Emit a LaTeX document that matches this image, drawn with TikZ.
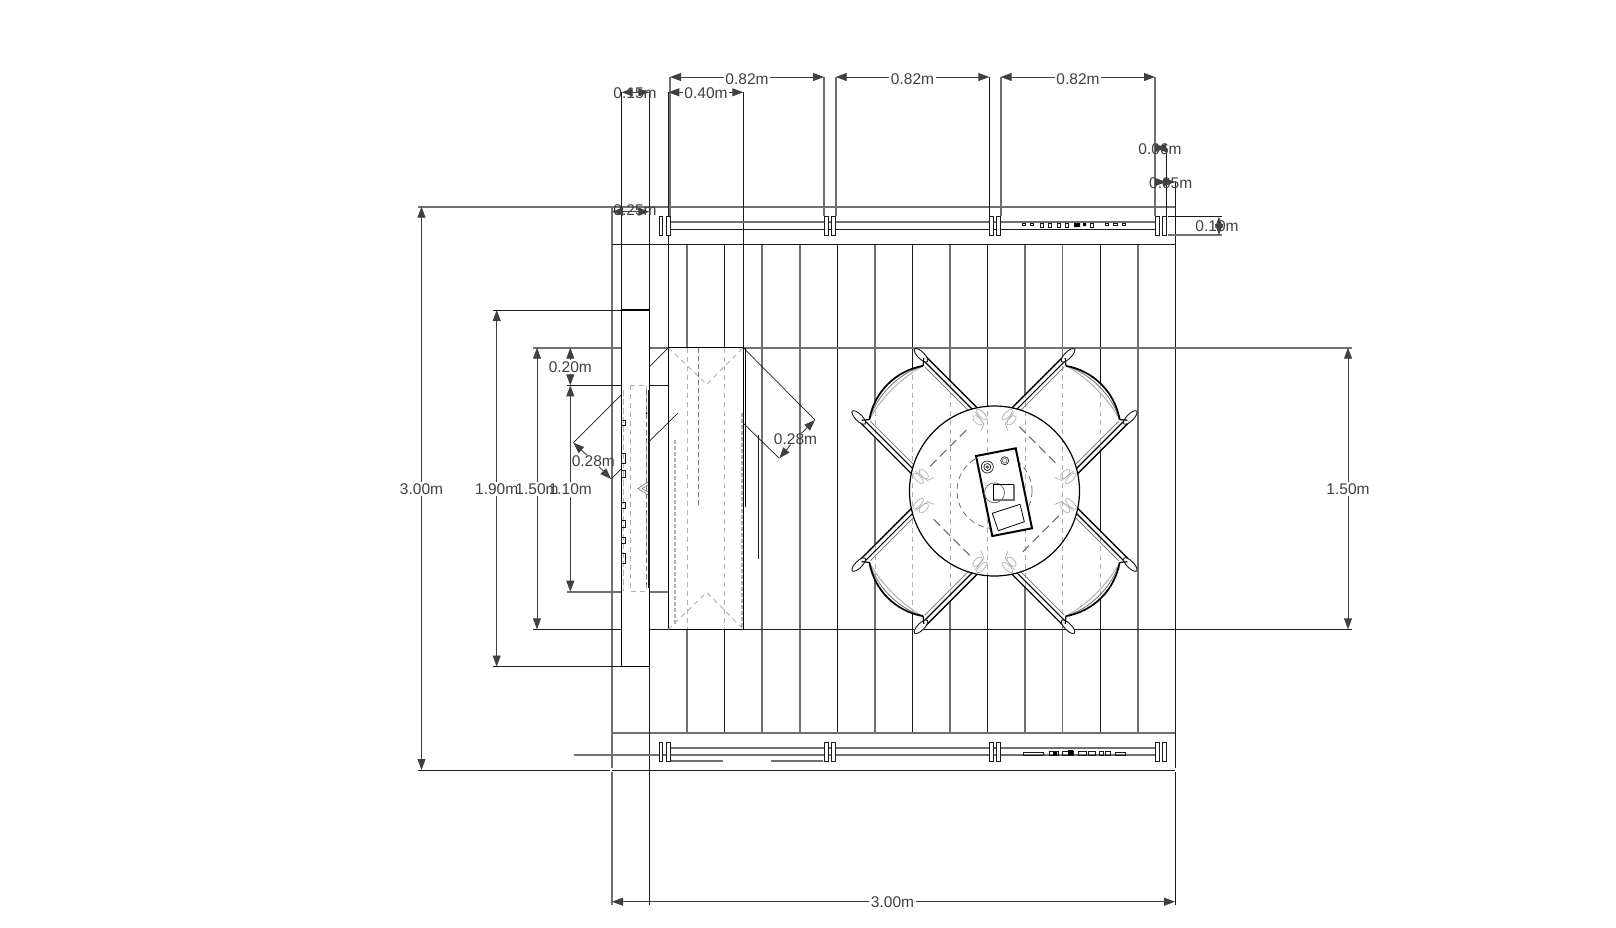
\documentclass[tikz,border=0pt]{standalone}
\usepackage{fontspec}
\setmainfont{Liberation Sans}
\usetikzlibrary{arrows.meta}

\newcommand{\chairoutline}{(60,-47) -- (139,-47) -- (139,-38) .. controls (155,-15) and (155,15) .. (139,38) -- (139,47) -- (60,47) -- cycle}
\newcommand{\seatplanks}{(875,240) -- (875,740) (912.3,240) -- (912.3,740) (950,240) -- (950,740) (987.3,240) -- (987.3,740) (1025,240) -- (1025,740) (1062.6,240) -- (1062.6,740) (1100,240) -- (1100,740)}
\newcommand{\chairpatch}[1]{%
  \fill[white, shift={(centre)}, rotate=#1] \chairoutline;
  \begin{scope}
    \path[clip, shift={(centre)}, rotate=#1] \chairoutline;
    \draw[hidden] \seatplanks;
  \end{scope}}

\begin{document}
\begin{tikzpicture}[x=1pt, y=-1pt, >={Triangle[length=11pt,width=8pt]}]

\definecolor{darkline}{RGB}{26, 26, 26}
\definecolor{greyline}{RGB}{112, 112, 112}
\definecolor{lightline}{RGB}{176, 176, 176}
\definecolor{dimcolor}{RGB}{64, 64, 64}

\tikzset{
    blackline/.style={draw=darkline, line width=1pt},
    greyed/.style={draw=greyline, line width=1.6pt},
    hidden/.style={draw=lightline, line width=0.9pt, dash pattern=on 5pt off 4pt},
    hiddenwide/.style={draw=lightline, line width=1.5pt, dash pattern=on 4pt off 2pt},
    hiddendark/.style={draw=greyline, line width=0.9pt, dash pattern=on 5pt off 3pt},
    dim/.style={draw=dimcolor, line width=0.9pt, ->},
    dimboth/.style={draw=dimcolor, line width=0.9pt, <->},
    dimlabel/.style={text=dimcolor, font=\fontsize{15.5}{18}\selectfont, inner sep=1.5pt},
    postbar/.style={draw=darkline, line width=1pt, fill=white},
    claw/.style={draw=lightline, line width=0.7pt},
    chair/.pic={
        % side bars
        \draw[draw=black, line width=1.4pt] (70,-46.5) -- (150,-46.5) (70,46.5) -- (150,46.5);
        \draw[draw=black, line width=1.2pt] (70,-42) -- (143,-42) (70,42) -- (143,42);
        \draw[draw=greyline, line width=0.7pt] (70,-38.5) -- (137,-38.5) (70,38.5) -- (137,38.5);
        % back
        \draw[draw=lightline, line width=1pt] (139,-38) .. controls (146,-15) and (146,15) .. (139,38);
        \draw[draw=greyline, line width=0.8pt] (139,-38) .. controls (151,-15) and (151,15) .. (139,38);
        \draw[draw=black, line width=1.7pt] (139,-38) .. controls (155,-15) and (155,15) .. (139,38);
        % knobs
        \draw[draw=darkline, line width=0.9pt, fill=white] (148,-44) ellipse (9 and 3.4) (148,44) ellipse (9 and 3.4);
        \draw[draw=black, line width=1.2pt] (139,-38) -- (144,-44) (139,38) -- (144,44);
    },
    chairfeet/.pic={
        \draw[claw] (63,-45) ellipse (7 and 2.6) (63,45) ellipse (7 and 2.6);
        \draw[claw] (62,-38) ellipse (6 and 3) (62,38) ellipse (6 and 3);
        \draw[claw] (70,-42) -- (55,-40) -- (52,-33) (70,42) -- (55,40) -- (52,33);
        \draw[draw=dimcolor!80, line width=1.1pt, dash pattern=on 9pt off 5pt] (63,-28) -- (63,28);
    }
}

\useasboundingbox (0,0) rectangle (1616,927);

% Named points of the dimensions
\coordinate (centre) at (994.5,491);
\coordinate (top300) at (421.5,206.7);
\coordinate (bot300) at (421.5,770);
\coordinate (top190) at (496.7,310);
\coordinate (bot190) at (496.7,666.5);
\coordinate (top150) at (537,347.7);
\coordinate (bot150) at (537,629.3);
\coordinate (top110) at (570.3,385.3);
\coordinate (bot110) at (570.3,591.7);
\coordinate (top020) at (570.3,347.7);
\coordinate (rtop150) at (1348,347.7);
\coordinate (rbot150) at (1348,629.3);
\coordinate (left300) at (612,901.7);
\coordinate (right300) at (1175,901.7);
\coordinate (a82) at (670,77);
\coordinate (b82) at (824,77);
\coordinate (c82) at (835.7,77);
\coordinate (d82) at (989.3,77);
\coordinate (e82) at (1000.7,77);
\coordinate (f82) at (1155,77);
\coordinate (a40) at (668.3,92.3);
\coordinate (b40) at (743.3,92.3);
\coordinate (a15) at (621.7,92.3);
\coordinate (b15) at (649.3,92.3);
\coordinate (a25) at (612,211.7);
\coordinate (b25) at (649.3,211.7);
\coordinate (a06) at (1155,148);
\coordinate (b06) at (1166,148);
\coordinate (a05) at (1166,182);
\coordinate (b05) at (1175,182);
\coordinate (a10) at (1219,216.7);
\coordinate (b10) at (1219,235);
\coordinate (ldiagA) at (573.3,442.7);
\coordinate (ldiagB) at (611,479);
\coordinate (rdiagA) at (815,420);
\coordinate (rdiagB) at (779.3,458.3);

% Floor planks
\draw[greyed] (687,244) -- (687,732.7) (762,244) -- (762,732.7) (799.7,244) -- (799.7,732.7)
    (875,244) -- (875,732.7) (950,244) -- (950,732.7) (1025,244) -- (1025,732.7)
    (1062.6,244) -- (1062.6,732.7) (1138,244) -- (1138,732.7);
\draw[blackline] (724.3,244) -- (724.3,732.7) (837.3,244) -- (837.3,732.7) (912.3,244) -- (912.3,732.7)
    (987.3,244) -- (987.3,732.7) (1100,244) -- (1100,732.7);

% Outer frame and extension lines
\draw[greyed] (418,206.7) -- (1175,206.7) (612,206.7) -- (612,768) (612,772) -- (612,905);
\draw[greyed] (612,732.7) -- (1175,732.7);
\draw[blackline] (418,770) -- (610,770) (612,770) -- (1175,770) (612,244) -- (1175,244);
\draw[blackline] (1175,182) -- (1175,768) (1175,772) -- (1175,905) (649.3,92) -- (649.3,905);
\draw[blackline] (621.7,92) -- (621.7,310) (668.3,92) -- (668.3,347.7) (743.3,92) -- (743.3,347.7);
\draw[greyed] (670,77) -- (670,216) (824,77) -- (824,216) (835.7,77) -- (835.7,216) (1000.7,77) -- (1000.7,216) (1155,77) -- (1155,216);
\draw[blackline] (989.3,77) -- (989.3,216) (1166,148) -- (1166,216);
\draw[blackline] (1168,216.7) -- (1222,216.7);
\draw[greyed] (1168,235) -- (1222,235);
\draw[greyed] (533,347.7) -- (1352,347.7);
\draw[blackline] (533,629.3) -- (1352,629.3);
\draw[blackline] (493,310) -- (621.3,310) (493,666.5) -- (621.3,666.5);
\draw[blackline] (567,385.3) -- (668.3,385.3);
\draw[greyed] (567,591.7) -- (668.3,591.7);

% Bench
\draw[draw=black, line width=1.1pt, fill=white] (668.3,347.7) rectangle (743.3,629.3);
\draw[hidden] (668.3,347.7) -- (706.7,384.3) -- (743.3,347.7) (668.3,629.3) -- (706.7,592.3) -- (743.3,629.3);
\draw[hidden] (687,348) -- (687,629) (724.3,348) -- (724.3,629);
\draw[hiddendark] (698.3,348) -- (698.3,506.7);
\draw[hiddenwide] (675,440) -- (675,626) (742,413) -- (742,629);
\draw[draw=black, line width=1.3pt] (745.3,348) -- (745.3,506.7);
\draw[blackline] (758.3,435) -- (758.3,559.3);

% Diagonal extensions
\draw[draw=darkline, line width=0.7pt] (668.3,347.7) -- (ldiagA) (ldiagB) -- (677.7,413.3);
\draw[draw=darkline, line width=0.7pt] (743.3,347.7) -- (rdiagA) (743.3,423.3) -- (rdiagB);

% Grill
\draw[draw=black, line width=1.1pt, fill=white] (621.3,310) rectangle (649.3,666.5);
\draw[hidden] (630.7,385.3) rectangle (646.7,591.7);
\draw[draw=lightline, line width=1.5pt, dash pattern=on 6pt off 3pt] (623.5,390) -- (623.5,591);
\draw[draw=darkline, line width=1.6pt] (648.8,390) -- (648.8,588);
\draw[hiddendark] (646.7,390) -- (646.7,585);
\draw[draw=darkline, line width=0.5pt] (621.7,420) rectangle (625.7,425) (621.7,453) rectangle (625.7,463)
    (621.7,470) rectangle (625.7,477) (621.7,502) rectangle (625.7,508) (621.7,520) rectangle (625.7,527)
    (621.7,537) rectangle (625.7,543) (621.7,553) rectangle (625.7,563);
\fill[black] (646.7,413) circle (1);
\draw[draw=greyline, line width=0.6pt] (648,482) -- (638,488.5) -- (648,495) (648,485) -- (642,488.5) -- (648,492);

% Rails and posts
\draw[greyed] (670,221.7) -- (1155,221.7);
\draw[blackline] (670,229.3) -- (1155,229.3);
\draw[greyed] (670,747.7) -- (1155,747.7) (574,754.7) -- (1155,754.7);
\draw[greyed] (670,760.7) -- (723.3,760.7) (770.7,760.7) -- (823,760.7);
\draw[postbar] (659,216) rectangle (662.7,235) (666.7,216) rectangle (670.3,235)
    (824,216) rectangle (828,235) (831.7,216) rectangle (835.7,235)
    (989.3,216) rectangle (993,235) (996.7,216) rectangle (1000.7,235)
    (1155,216) rectangle (1159,235) (1162,216) rectangle (1166,235);
\draw[postbar] (659,742.3) rectangle (662.7,761.7) (666.7,742.3) rectangle (670.3,761.7)
    (824,742.3) rectangle (828,761.7) (831.7,742.3) rectangle (835.7,761.7)
    (989.3,742.3) rectangle (993,761.7) (996.7,742.3) rectangle (1000.7,761.7)
    (1155,742.3) rectangle (1159,761.7) (1162,742.3) rectangle (1166,761.7);

% Items on the rails
\draw[draw=darkline, line width=0.35pt] (1022,223) rectangle (1025,225) (1030,223) rectangle (1033,225)
    (1040,223) rectangle (1043,227) (1048,223) rectangle (1051,227) (1057,223) rectangle (1060,227)
    (1065,223) rectangle (1068,227) (1090,223) rectangle (1093,227) (1105,223) rectangle (1108,225)
    (1113,223) rectangle (1117,225) (1122,223) rectangle (1125,225);
\fill[black] (1074,223) rectangle (1080,227) (1083,223) rectangle (1086,226);
\draw[draw=darkline, line width=0.35pt] (1022.7,752.5) rectangle (1043,755) (1049,751) rectangle (1058,755)
    (1062,751) rectangle (1073,755) (1078,751) rectangle (1086,755) (1088,751) rectangle (1095,755)
    (1099,751) rectangle (1103,755) (1105,751) rectangle (1110,755) (1115,752.5) rectangle (1125,755);
\fill[black] (1068,750) rectangle (1073,755) (1053,752) rectangle (1057,755);

% Chairs and table
\chairpatch{45}
\chairpatch{135}
\chairpatch{225}
\chairpatch{315}
\pic[rotate=45] (chairNE) at (centre) {chair};
\pic[rotate=135] (chairNW) at (centre) {chair};
\pic[rotate=225] (chairSW) at (centre) {chair};
\pic[rotate=315] (chairSE) at (centre) {chair};

\fill[white] (centre) circle (85);
\begin{scope}
    \clip (centre) circle (85);
    \draw[hidden] \seatplanks;
\end{scope}
\draw[draw=black, line width=1.2pt] (centre) circle (85);
\draw[draw=greyline, line width=0.8pt, dash pattern=on 6pt off 4pt] (centre) circle (37.5);
\pic[rotate=45] (feetNE) at (centre) {chairfeet};
\pic[rotate=135] (feetNW) at (centre) {chairfeet};
\pic[rotate=225] (feetSW) at (centre) {chairfeet};
\pic[rotate=315] (feetSE) at (centre) {chairfeet};

% Tray
\draw[draw=black, line width=2pt, fill=white] (976,456) -- (1015.7,448.3) -- (1032,528.3) -- (992.3,536) -- cycle;
\draw[draw=darkline, line width=0.7pt] (987.3,467) circle (6) (987.3,467) circle (3.5) (1004.7,460.7) circle (4);
\draw[draw=greyline, line width=0.7pt] (1004.7,460.7) circle (2.3);
\draw[draw=darkline, line width=0.7pt] (987.3,467) circle (1.2);
\draw[draw=greyline, line width=0.8pt] (994.5,492.8) circle (10);
\draw[draw=greyline, line width=1.1pt] (1014,484.7) -- (1014,500) -- (993.3,500);
\draw[draw=black, line width=0.9pt] (1014,484.7) -- (993.3,484.7) -- (993.3,500);
\draw[draw=black, line width=0.8pt] (992.3,513.3) -- (1020,504.3) -- (1024.3,521.7) -- (998.3,530.7) -- cycle;

% Dimensions
\node[dimlabel] (d300) at (421.5,489) {3.00m};
\draw[dim] (d300) -- (top300);
\draw[dim] (d300) -- (bot300);
\node[dimlabel] (d190) at (496.7,489) {1.90m};
\draw[dim] (d190) -- (top190);
\draw[dim] (d190) -- (bot190);
\node[dimlabel] (d150) at (537,489) {1.50m};
\draw[dim] (d150) -- (top150);
\draw[dim] (d150) -- (bot150);
\node[dimlabel] (d110) at (570.3,489.5) {1.10m};
\draw[dim] (d110) -- (top110);
\draw[dim] (d110) -- (bot110);
\node[dimlabel] (d020) at (570.3,367) {0.20m};
\draw[dim] (d020) -- (top020);
\draw[dim] (d020) -- (top110);
\node[dimlabel] (rd150) at (1348,489) {1.50m};
\draw[dim] (rd150) -- (rtop150);
\draw[dim] (rd150) -- (rbot150);
\node[dimlabel] (d300b) at (892.5,901.7) {3.00m};
\draw[dim] (d300b) -- (left300);
\draw[dim] (d300b) -- (right300);
\node[dimlabel] (d82a) at (747,79) {0.82m};
\draw[dim] (d82a.west |- a82) -- (a82);
\draw[dim] (d82a.east |- b82) -- (b82);
\node[dimlabel] (d82b) at (912.5,79) {0.82m};
\draw[dim] (d82b.west |- c82) -- (c82);
\draw[dim] (d82b.east |- d82) -- (d82);
\node[dimlabel] (d82c) at (1078,79) {0.82m};
\draw[dim] (d82c.west |- e82) -- (e82);
\draw[dim] (d82c.east |- f82) -- (f82);
\node[dimlabel] (d40) at (706,93.3) {0.40m};
\draw[dim] (d40.west |- a40) -- (a40);
\draw[dim] (d40.east |- b40) -- (b40);
\node[dimlabel] (d15) at (635,92.8) {0.15m};
\draw[dimboth] (a15) -- (b15);
\node[dimlabel] (d25) at (635,210.5) {0.25m};
\draw[dimboth] (a25) -- (b25);
\node[dimlabel] (d06) at (1160,149) {0.06m};
\draw[dimboth] (a06) -- (b06);
\node[dimlabel] (d05) at (1170.7,183.3) {0.05m};
\draw[dimboth] (a05) -- (b05);
\node[dimlabel] (d10) at (1217,226.3) {0.10m};
\draw[dimboth] (a10) -- (b10);
\node[dimlabel, inner sep=0pt] (d28l) at (593.3,461) {0.28m};
\draw[dim] (d28l) -- (ldiagA);
\draw[dim] (d28l) -- (ldiagB);
\node[dimlabel, inner sep=0pt] (d28r) at (795.5,439) {0.28m};
\draw[dim] (d28r) -- (rdiagA);
\draw[dim] (d28r) -- (rdiagB);

\end{tikzpicture}
\end{document}
